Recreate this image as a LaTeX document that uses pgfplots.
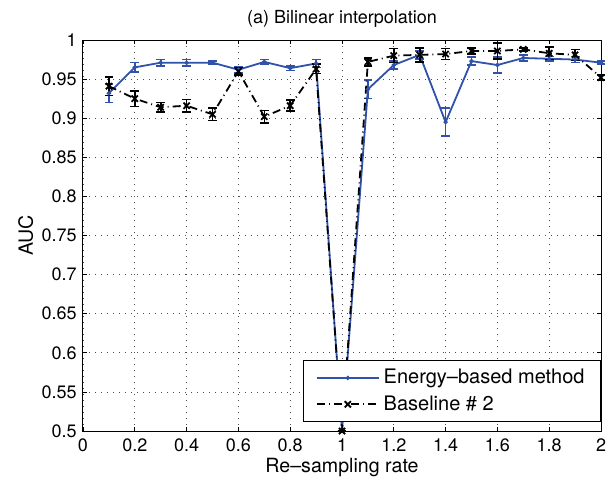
\documentclass[border=0pt]{standalone}
\usepackage{pgfplots}
\pgfplotsset{compat=1.18}
\usepackage{pgfplotstable}
\usepackage{fontspec}
\setmainfont{TeX Gyre Heros}
\definecolor{mblue}{RGB}{48,82,170}
\pgfplotsset{mylegend/.style={legend image code/.code={\draw[##1] (0pt,0pt) -- (31pt,0pt); \draw[##1, solid] plot coordinates {(15.5pt,0pt)};}}}
\pgfplotstableread{
x y e
0.1 0.932 0.012
0.2 0.965 0.006
0.3 0.971 0.004
0.4 0.971 0.004
0.5 0.971 0.002
0.6 0.962 0.004
0.7 0.972 0.003
0.8 0.964 0.003
0.9 0.970 0.005
1.0 0.500 0.0
1.1 0.937 0.012
1.2 0.968 0.005
1.3 0.981 0.005
1.4 0.895 0.018
1.5 0.973 0.005
1.6 0.968 0.010
1.7 0.977 0.004
1.8 0.976 0.003
1.9 0.975 0.004
2.0 0.971 0.002
}\energy
\pgfplotstableread{
x y e
0.1 0.941 0.012
0.2 0.925 0.010
0.3 0.914 0.006
0.4 0.916 0.008
0.5 0.905 0.008
0.6 0.960 0.005
0.7 0.902 0.008
0.8 0.916 0.007
0.9 0.963 0.006
1.0 0.500 0.0
1.1 0.972 0.005
1.2 0.980 0.009
1.3 0.981 0.009
1.4 0.982 0.007
1.5 0.986 0.004
1.6 0.986 0.010
1.7 0.988 0.002
1.8 0.983 0.008
1.9 0.981 0.007
2.0 0.952 0.003
}\baseline
\begin{document}
\fontsize{9}{11}\selectfont
\begin{tikzpicture}
\useasboundingbox (-41.5pt,-28pt) rectangle (262.5pt,215.5pt);
\begin{axis}[
  at={(0,0)}, anchor=south west,
  scale only axis, width=259pt, height=195.5pt,
  xmin=0, xmax=2, ymin=0.5, ymax=1,
  xtick={0,0.2,...,2.01}, ytick={0.5,0.55,...,1.001},
  xticklabels={0,0.2,0.4,0.6,0.8,1,1.2,1.4,1.6,1.8,2},
  yticklabels={0.5,0.55,0.6,0.65,0.7,0.75,0.8,0.85,0.9,0.95,1},
  tick align=inside, major tick length=2pt,
  tick style={black, line width=0.4pt},
  axis line style={line width=0.5pt},
  grid=major, grid style={black!70, line width=0.4pt, dash pattern=on 0.5pt off 2.5pt},
  font=\fontsize{9}{11}\selectfont,
  ticklabel style={font=\fontsize{9}{11}\selectfont},
  xticklabel style={yshift=-0.5pt},
  title={(a) Bilinear interpolation},
  title style={yshift=-3pt},
  xlabel={Re--sampling rate}, ylabel={AUC},
  label style={font=\fontsize{9.8}{12}\selectfont},
  xlabel style={yshift=3pt}, ylabel style={yshift=-2pt},
  clip=false,
  legend style={at={(1,0.022)}, anchor=south east, draw=black, line width=0.5pt,
    font=\fontsize{10}{12}\selectfont, inner xsep=6pt, inner ysep=2.5pt,
    row sep=0.5pt, cells={anchor=west}},
]
\addplot[mblue, line width=0.9pt, mark=*, mark size=0.6pt, mylegend,
  error bars/.cd, y dir=both, y explicit,
  error bar style={line width=0.8pt, solid},
  error mark options={rotate=90, mark size=2.2pt, line width=0.8pt}]
  table[x=x, y=y, y error=e]{\energy};
\addlegendentry{Energy--based method}
\addplot[black, line width=0.9pt, dash pattern=on 4pt off 2pt on 0.5pt off 2pt,
  mark=x, mark size=2.2pt, mark options={solid}, mylegend,
  error bars/.cd, y dir=both, y explicit,
  error bar style={line width=0.8pt, solid},
  error mark options={rotate=90, mark size=2.2pt, line width=0.8pt}]
  table[x=x, y=y, y error=e]{\baseline};
\addlegendentry{Baseline \# 2}
\end{axis}
\end{tikzpicture}
\end{document}
